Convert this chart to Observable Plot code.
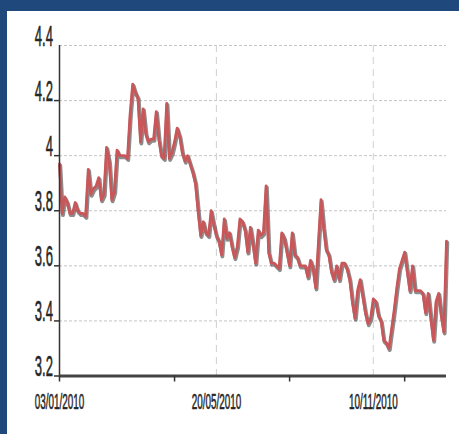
<!DOCTYPE html>
<html>
<head>
<meta charset="utf-8">
<script src="https://cdn.jsdelivr.net/npm/d3@7"></script>
<script src="https://cdn.jsdelivr.net/npm/@observablehq/plot@0.6"></script>
<style>
  html, body { margin: 0; padding: 0; }
  #frame { position: relative; width: 459px; height: 434px; background: #1F497D; overflow: hidden; }
  #chart { position: absolute; left: 7px; top: 11px; width: 452px; height: 423px; background: #ffffff; }
</style>
</head>
<body>
<div id="frame"><div id="chart"></div></div>
<script>
const values = [
  3.97, 3.79, 3.85, 3.83, 3.79, 3.79, 3.83, 3.80, 3.79, 3.79,
  3.78, 3.95, 3.86, 3.88, 3.89, 3.92, 3.84, 3.86, 4.03, 3.98,
  3.84, 3.87, 4.02, 4.00, 4.00, 4.00, 3.99, 4.15, 4.26, 4.23,
  4.21, 4.05, 4.17, 4.08, 4.05, 4.06, 4.06, 4.16, 4.06, 4.00,
  3.99, 4.19, 3.99, 4.01, 4.05, 4.10, 4.07, 4.01, 3.98, 4.00,
  3.97, 3.94, 3.90, 3.80, 3.71, 3.76, 3.72, 3.71, 3.80, 3.75,
  3.71, 3.69, 3.64, 3.77, 3.70, 3.72, 3.67, 3.63, 3.67, 3.77,
  3.76, 3.73, 3.65, 3.74, 3.68, 3.61, 3.73, 3.71, 3.72, 3.89,
  3.65, 3.61, 3.61, 3.60, 3.59, 3.72, 3.70, 3.65, 3.60, 3.72,
  3.64, 3.63, 3.60, 3.60, 3.60, 3.56, 3.62, 3.59, 3.52, 3.68,
  3.84, 3.74, 3.66, 3.64, 3.58, 3.55, 3.60, 3.55, 3.61, 3.61,
  3.59, 3.55, 3.47, 3.41, 3.51, 3.55, 3.49, 3.43, 3.39, 3.41,
  3.48, 3.47, 3.42, 3.40, 3.33, 3.32, 3.30, 3.37, 3.44, 3.52,
  3.59, 3.62, 3.65, 3.58, 3.51, 3.60, 3.51, 3.51, 3.51, 3.50,
  3.43, 3.50, 3.41, 3.33, 3.47, 3.50, 3.42, 3.36, 3.69
];
const yTicks = [3.2, 3.4, 3.6, 3.8, 4.0, 4.2, 4.4];
const dateLabels = ["03/01/2010", "20/05/2010", "10/11/2010"];
const labelIndex = [0, 60, 120];
const tickIndex = [0, 44, 88, 132];

const data = values.map((v, i) => ({i, v}));

const svg = Plot.plot({
  width: 452,
  height: 423,
  marginLeft: 52,
  marginRight: 13,
  marginTop: 34,
  marginBottom: 58.5,
  style: {background: "#ffffff", fontFamily: "Liberation Sans, Arial, sans-serif", overflow: "visible"},
  x: {domain: [0, values.length - 1], axis: null},
  y: {domain: [3.2, 4.4], axis: null},
  marks: [
    Plot.ruleY(yTicks.filter(d => d > 3.2), {stroke: "#c4c4c4", strokeDasharray: "3,2", strokeWidth: 1}),
    Plot.ruleX(labelIndex.filter(d => d > 0), {stroke: "#d0d0d0", strokeDasharray: "7,5", strokeWidth: 1}),
    Plot.line(data, {x: "i", y: "v", stroke: "#2e2e2e", strokeWidth: 3.9, strokeOpacity: 0.55, dx: 0.8, dy: 1.6}),
    Plot.line(data, {x: "i", y: "v", stroke: "#c9575a", strokeWidth: 2.8}),
    Plot.ruleX([0], {y1: 3.195, y2: 4.4, stroke: "#333", strokeWidth: 1.5}),
    Plot.ruleY([3.2], {stroke: "#444", strokeWidth: 3}),
    Plot.axisY({ticks: yTicks.filter(d => d < 4.3), tickSize: 5, tickFormat: () => "", label: null,
      stroke: "#333", strokeWidth: 1.5}),
    Plot.axisY({ticks: yTicks, tickSize: 0, tickPadding: 6.5, fontSize: 29, fill: "#262626", label: null,
      tickFormat: d => String(+d.toFixed(1))}),
    Plot.axisX({ticks: tickIndex, tickSize: 6, tickFormat: () => "", label: null, stroke: "#333", strokeWidth: 1.5}),
    Plot.axisX({ticks: labelIndex, tickSize: 0, tickPadding: 33, fontSize: 22, fill: "#262626", label: null,
      tickFormat: d => dateLabels[labelIndex.indexOf(d)]})
  ]
});

d3.select(svg).selectAll("g[aria-label$='tick label'] text").each(function() {
  const el = this;
  const t = el.getAttribute("transform") || "";
  const x = +el.getAttribute("x") || 0;
  const y = +el.getAttribute("y") || 0;
  el.setAttribute("x", 0);
  el.setAttribute("y", 0);
  el.setAttribute("stroke", "#262626");
  el.setAttribute("stroke-width", "0.6");
  el.setAttribute("transform", `${t} translate(${x},${y}) scale(0.45,1)`);
});

document.getElementById("chart").appendChild(svg);
</script>
</body>
</html>
